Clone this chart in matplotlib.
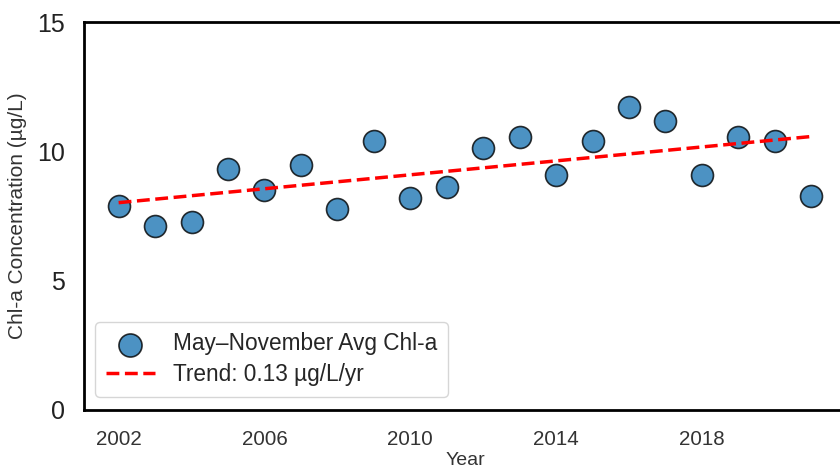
import numpy as np
import matplotlib
matplotlib.use("Agg")
import matplotlib.pyplot as plt
import seaborn as sns

# May-November mean chlorophyll-a per year
years = np.arange(2002, 2022)
chla = [7.89, 7.11, 7.27, 9.32, 8.50, 9.47, 7.77, 10.40, 8.19, 8.62,
        10.13, 10.55, 9.08, 10.40, 11.71, 11.17, 9.08, 10.55, 10.40, 8.27]
xticks = [2002, 2006, 2010, 2014, 2018]
yticks = [0, 5, 10, 15]

sns.set_style("white")
plt.rcParams["font.family"] = ["Liberation Sans", "DejaVu Sans"]

slope, intercept = np.polyfit(years, chla, 1)

fig = plt.figure(figsize=(8.4, 4.7), dpi=100)
ax = fig.add_axes([0.1, 0.128, 0.907, 0.825])

ax.scatter(years, chla, s=250, color="#1f77b4", alpha=0.8, edgecolor="black",
           linewidth=1.2, label="May\u2013November Avg Chl-a", zorder=2)
ax.plot(years, slope * years + intercept, "--", color="red", lw=2.5,
        label=f"Trend: {slope:.2f} \u00b5g/L/yr", zorder=3)

ax.set_ylim(0, 15)
ax.set_yticks(yticks)
ax.set_xticks(xticks)
ax.tick_params(axis="y", labelsize=18, colors="#222222", pad=10)
ax.tick_params(axis="x", labelsize=14.8, colors="#333333", pad=11)
ax.set_xlabel("Year", fontsize=14, color="#333333")
ax.set_ylabel("Chl-a Concentration (\u00b5g/L)", fontsize=15, color="#333333")
ax.xaxis.set_label_coords(0.5, -0.108)
ax.yaxis.set_label_coords(-0.075, 0.5)

for side in ["left", "top", "bottom", "right"]:
    ax.spines[side].set_color("black")
    ax.spines[side].set_linewidth(2)

ax.legend(loc="lower left", fontsize=16.3, frameon=True, borderpad=0.45,
          handlelength=2.2, markerscale=1.05, labelspacing=0.35,
          bbox_to_anchor=(0.0, 0.005))

fig.savefig("out.png", dpi=100)
